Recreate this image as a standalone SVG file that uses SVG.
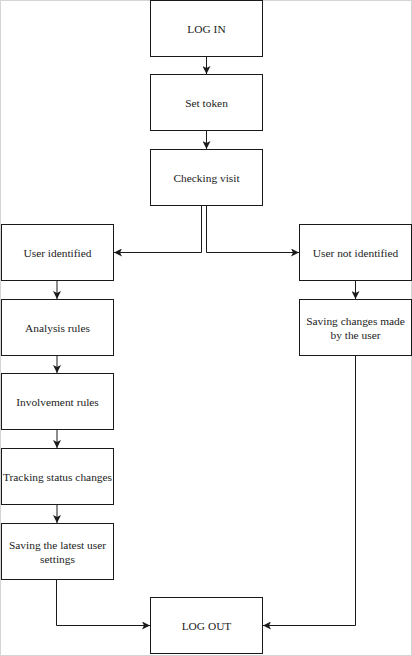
<svg xmlns="http://www.w3.org/2000/svg" width="412" height="656" viewBox="0 0 412 656">
<defs>
<marker id="ah" viewBox="0 0 8 8" refX="8" refY="4" markerWidth="8" markerHeight="8" markerUnits="userSpaceOnUse" orient="auto">
<path d="M0,0 L8,4 L0,8 L2,4 Z" fill="#1a1a1a"/>
</marker>
</defs>
<style>
.box{fill:#fff;stroke:#1a1a1a;stroke-width:1}
.lbl{font-family:"Liberation Serif","Times New Roman",serif;font-size:11.4px;fill:#222;text-anchor:middle;dominant-baseline:central}
.edge{fill:none;stroke:#1a1a1a;stroke-width:1}
</style>
<rect x="0.5" y="0.5" width="411" height="655" fill="#fff" stroke="#d4d4d4"/>
<g id="connectors">
<path class="edge" d="M206.5,56.5 V74" marker-end="url(#ah)"/>
<path class="edge" d="M206.5,130.5 V149" marker-end="url(#ah)"/>
<path class="edge" d="M201.5,205.5 V252.5 H114" marker-end="url(#ah)"/>
<path class="edge" d="M206.5,205.5 V252.5 H299" marker-end="url(#ah)"/>
<path class="edge" d="M57,280.5 V299" marker-end="url(#ah)"/>
<path class="edge" d="M57,355.5 V373" marker-end="url(#ah)"/>
<path class="edge" d="M57,429.5 V448" marker-end="url(#ah)"/>
<path class="edge" d="M57,504.5 V523" marker-end="url(#ah)"/>
<path class="edge" d="M355.5,280.5 V299" marker-end="url(#ah)"/>
<path class="edge" d="M56.5,579.5 V625.5 H150" marker-end="url(#ah)"/>
<path class="edge" d="M355.5,355.5 V625.5 H263" marker-end="url(#ah)"/>
</g>
<g id="login"><rect class="box" x="150.5" y="0.5" width="112" height="56"/><text class="lbl" x="206.5" y="28.5">LOG IN</text></g>
<g id="settoken"><rect class="box" x="150.5" y="74.5" width="112" height="56"/><text class="lbl" x="206.5" y="102.5">Set token</text></g>
<g id="checking"><rect class="box" x="150.5" y="149.5" width="112" height="56"/><text class="lbl" x="206.5" y="177.5">Checking visit</text></g>
<g id="identified"><rect class="box" x="1.5" y="224.5" width="112" height="56"/><text class="lbl" x="57.5" y="252.5">User identified</text></g>
<g id="notidentified"><rect class="box" x="299.5" y="224.5" width="112" height="56"/><text class="lbl" x="355.5" y="252.5">User not identified</text></g>
<g id="analysis"><rect class="box" x="1.5" y="299.5" width="112" height="56"/><text class="lbl" x="57.5" y="327.5">Analysis rules</text></g>
<g id="savingchanges"><rect class="box" x="299.5" y="299.5" width="112" height="56"/><text class="lbl" x="355.5" y="320.5">Saving changes made</text><text class="lbl" x="355.5" y="334.5">by the user</text></g>
<g id="involvement"><rect class="box" x="1.5" y="373.5" width="112" height="56"/><text class="lbl" x="57.5" y="401.5">Involvement rules</text></g>
<g id="tracking"><rect class="box" x="1.5" y="448.5" width="112" height="56"/><text class="lbl" x="57.5" y="476.5">Tracking status changes</text></g>
<g id="savinglatest"><rect class="box" x="1.5" y="523.5" width="112" height="56"/><text class="lbl" x="57.5" y="544.5">Saving the latest user</text><text class="lbl" x="57.5" y="558.5">settings</text></g>
<g id="logout"><rect class="box" x="150.5" y="597.5" width="112" height="56"/><text class="lbl" x="206.5" y="625.5">LOG OUT</text></g>
</svg>
